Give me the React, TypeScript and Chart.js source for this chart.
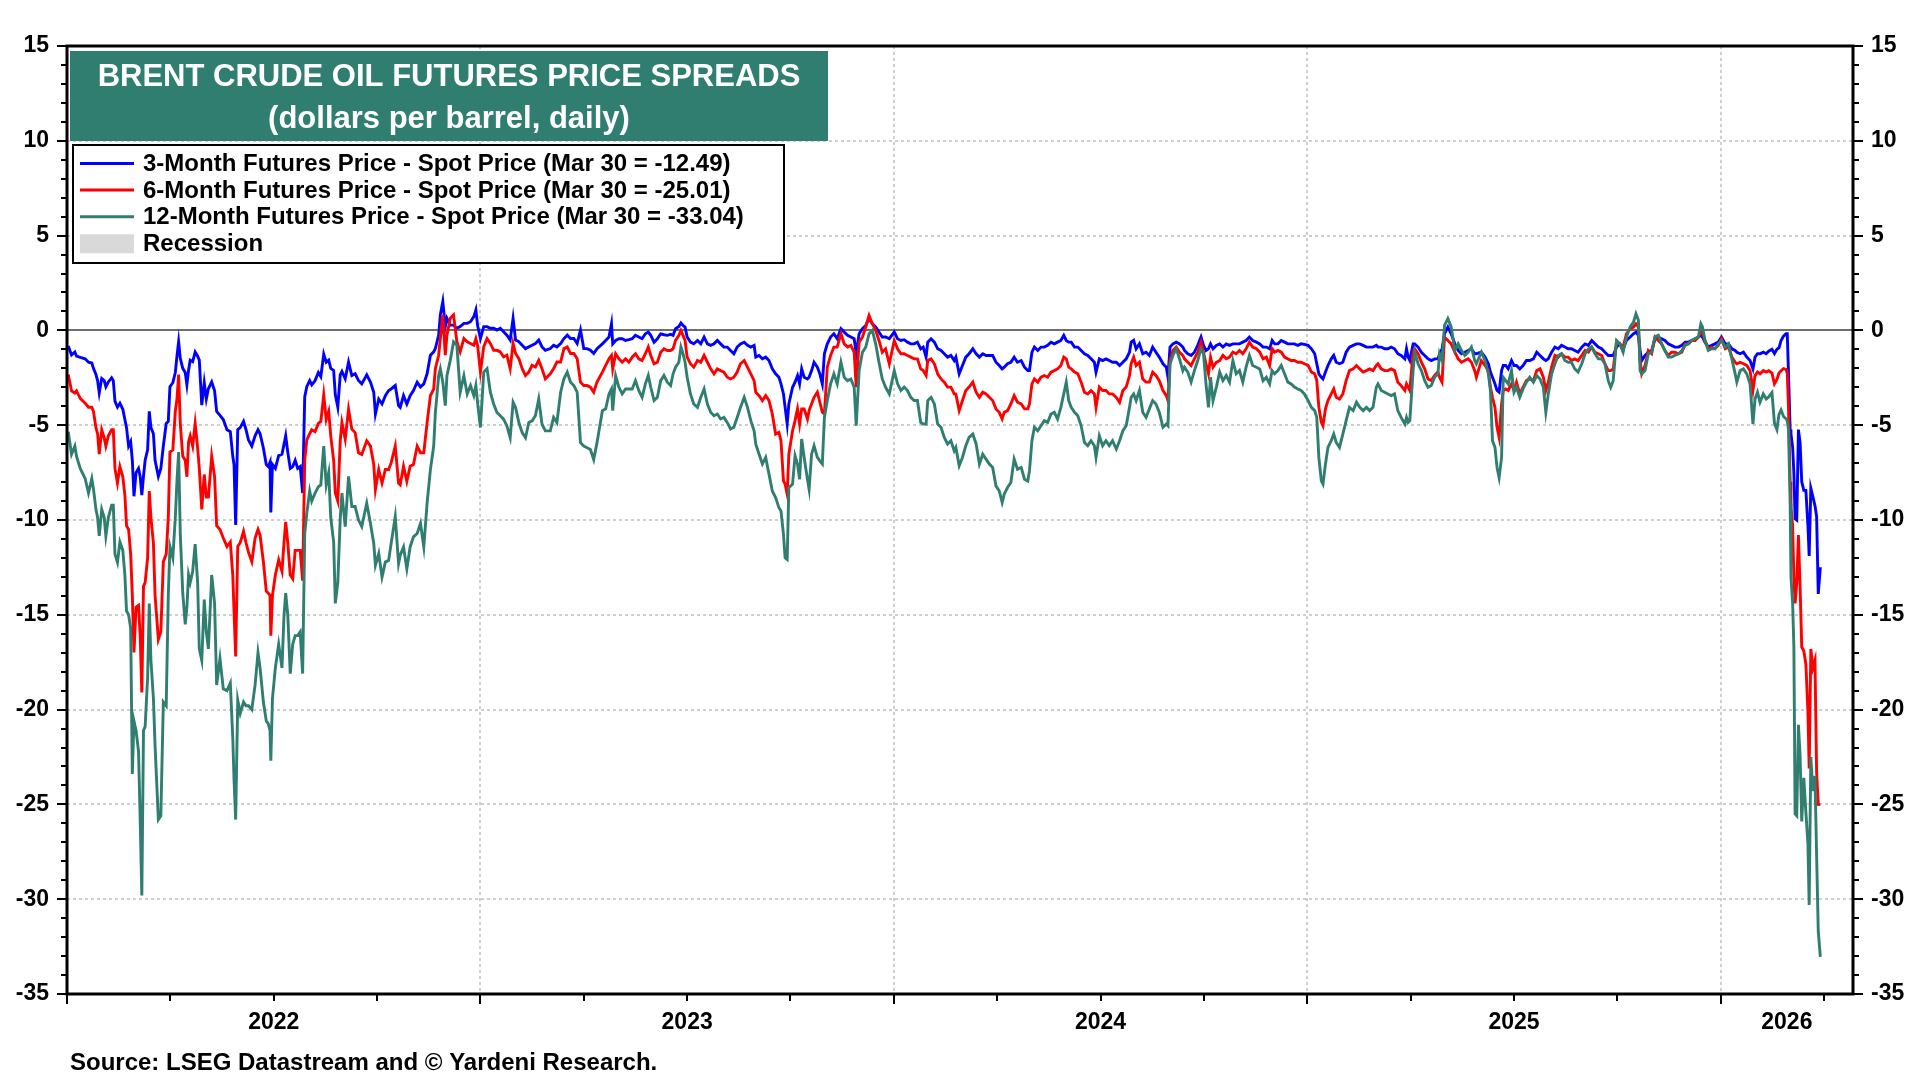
import React, { useEffect, useRef } from "react";
import { Chart, registerables } from "chart.js";

Chart.register(...registerables);

// ---------------- DATA ----------------
const dates: number[] = [
  // 2022 H1
  2022.003, 2022.011, 2022.019, 2022.023, 2022.032, 2022.044, 2022.052, 2022.060, 2022.064, 2022.070,
  2022.074, 2022.078, 2022.084, 2022.090, 2022.094, 2022.100, 2022.108, 2022.112, 2022.116, 2022.122,
  2022.128, 2022.135, 2022.140, 2022.144, 2022.149, 2022.154, 2022.158, 2022.162, 2022.167, 2022.173,
  2022.177, 2022.181, 2022.185, 2022.189, 2022.195, 2022.199, 2022.203, 2022.209, 2022.213, 2022.221,
  2022.227, 2022.233, 2022.240, 2022.245, 2022.249, 2022.256, 2022.262, 2022.266, 2022.270, 2022.274,
  2022.280, 2022.286, 2022.290, 2022.294, 2022.298, 2022.304, 2022.310, 2022.316, 2022.320, 2022.326,
  2022.332, 2022.337, 2022.342, 2022.350, 2022.357, 2022.362, 2022.370, 2022.378, 2022.387, 2022.395,
  2022.401, 2022.404, 2022.408, 2022.413, 2022.419, 2022.427, 2022.433, 2022.439, 2022.447, 2022.455,
  2022.462, 2022.467, 2022.475, 2022.482, 2022.487, 2022.491, 2022.493, 2022.497, 2022.504, 2022.512,
  2022.520, 2022.525, 2022.529, 2022.534, 2022.540, 2022.546, 2022.552, 2022.558, 2022.564, 2022.570,
  2022.575, 2022.580, 2022.587, 2022.592, 2022.600, 2022.608, 2022.614, 2022.621, 2022.627, 2022.633,
  2022.638, 2022.645, 2022.649, 2022.655, 2022.661,
  // 2022 H2 - 2023 Q1
  2022.665, 2022.673, 2022.681, 2022.689, 2022.697, 2022.705, 2022.713, 2022.725, 2022.734, 2022.742,
  2022.746, 2022.754, 2022.762, 2022.770, 2022.778, 2022.784, 2022.794, 2022.802, 2022.806, 2022.814,
  2022.822, 2022.830, 2022.838, 2022.847, 2022.855, 2022.863, 2022.871, 2022.879, 2022.887, 2022.891,
  2022.899, 2022.903, 2022.909, 2022.915, 2022.919, 2022.927, 2022.935, 2022.943, 2022.951, 2022.960,
  2022.968, 2022.976, 2022.984, 2022.989, 2022.993, 2023.000, 2023.008, 2023.016, 2023.024, 2023.032,
  2023.040, 2023.048, 2023.056, 2023.064, 2023.072, 2023.079, 2023.085, 2023.093, 2023.101, 2023.109,
  2023.117, 2023.125, 2023.133, 2023.141, 2023.149, 2023.157, 2023.169, 2023.177, 2023.185, 2023.194,
  2023.202, 2023.210, 2023.218, 2023.226, 2023.234, 2023.242, 2023.250, 2023.258, 2023.266, 2023.274,
  2023.282,
  // 2023 Q2 - Q4
  2023.295, 2023.303, 2023.311, 2023.317, 2023.320, 2023.327, 2023.335, 2023.343, 2023.351, 2023.359,
  2023.367, 2023.375, 2023.383, 2023.391, 2023.399, 2023.406, 2023.412, 2023.420, 2023.428, 2023.436,
  2023.444, 2023.452, 2023.460, 2023.466, 2023.472, 2023.480, 2023.485, 2023.490, 2023.495, 2023.500,
  2023.508, 2023.516, 2023.525, 2023.533, 2023.541, 2023.549, 2023.557, 2023.565, 2023.573, 2023.581,
  2023.589, 2023.597, 2023.605, 2023.613, 2023.621, 2023.629, 2023.638, 2023.646, 2023.654, 2023.662,
  2023.666, 2023.674, 2023.682, 2023.690, 2023.698, 2023.706, 2023.714, 2023.722, 2023.727, 2023.733,
  2023.737, 2023.742, 2023.746, 2023.755, 2023.761, 2023.767, 2023.772, 2023.777, 2023.783, 2023.791,
  2023.795, 2023.801, 2023.807, 2023.815, 2023.821, 2023.827, 2023.832, 2023.839, 2023.847, 2023.855,
  2023.863, 2023.872, 2023.880, 2023.888, 2023.896, 2023.904, 2023.909, 2023.916, 2023.924, 2023.932,
  2023.940, 2023.948, 2023.956, 2023.964, 2023.972, 2023.980, 2023.989, 2024.001,
  // 2024 Jan - Sep
  2024.009, 2024.017, 2024.025, 2024.033, 2024.041, 2024.049, 2024.057, 2024.065, 2024.071, 2024.078,
  2024.082, 2024.090, 2024.098, 2024.106, 2024.114, 2024.122, 2024.130, 2024.138, 2024.146, 2024.150,
  2024.158, 2024.166, 2024.174, 2024.182, 2024.191, 2024.199, 2024.207, 2024.215, 2024.223, 2024.231,
  2024.239, 2024.247, 2024.255, 2024.262, 2024.267, 2024.275, 2024.283, 2024.291, 2024.299, 2024.308,
  2024.316, 2024.324, 2024.328, 2024.334, 2024.340, 2024.348, 2024.356, 2024.364, 2024.372, 2024.380,
  2024.388, 2024.396, 2024.404, 2024.411, 2024.417, 2024.423, 2024.429, 2024.437, 2024.445, 2024.453,
  2024.461, 2024.469, 2024.477, 2024.485, 2024.489, 2024.497, 2024.505, 2024.513, 2024.521, 2024.529,
  2024.538, 2024.546, 2024.554, 2024.562, 2024.570, 2024.574, 2024.580, 2024.586, 2024.594, 2024.602,
  2024.610, 2024.618, 2024.626, 2024.634, 2024.642, 2024.651, 2024.659, 2024.663, 2024.668, 2024.675,
  2024.683, 2024.691, 2024.699,
  // 2024 Sep - 2025 May
  2024.703, 2024.711, 2024.719, 2024.727, 2024.735, 2024.743, 2024.749, 2024.755, 2024.761, 2024.766,
  2024.772, 2024.780, 2024.788, 2024.796, 2024.804, 2024.812, 2024.820, 2024.828, 2024.836, 2024.844,
  2024.852, 2024.860, 2024.868, 2024.877, 2024.885, 2024.893, 2024.901, 2024.909, 2024.915, 2024.921,
  2024.929, 2024.937, 2024.945, 2024.953, 2024.961, 2024.969, 2024.977, 2024.985, 2024.993, 2025.002,
  2025.010, 2025.018, 2025.023, 2025.028, 2025.034, 2025.038, 2025.044, 2025.050, 2025.058, 2025.064,
  2025.070, 2025.078, 2025.086, 2025.094, 2025.102, 2025.111, 2025.119, 2025.127, 2025.135, 2025.143,
  2025.151, 2025.159, 2025.167, 2025.171, 2025.179, 2025.187, 2025.195, 2025.203, 2025.211, 2025.219,
  2025.227, 2025.236, 2025.240, 2025.244, 2025.248, 2025.256, 2025.260, 2025.268, 2025.276, 2025.284,
  2025.292, 2025.300, 2025.308, 2025.316, 2025.320, 2025.326, 2025.332, 2025.340, 2025.348, 2025.357,
  2025.365, 2025.373, 2025.381, 2025.389, 2025.397, 2025.405,
  // 2025 May - 2026 Feb
  2025.409, 2025.421, 2025.430, 2025.438, 2025.443, 2025.448, 2025.454, 2025.459, 2025.464, 2025.470,
  2025.474, 2025.480, 2025.486, 2025.494, 2025.500, 2025.506, 2025.514, 2025.522, 2025.530, 2025.538,
  2025.547, 2025.555, 2025.563, 2025.571, 2025.577, 2025.583, 2025.591, 2025.599, 2025.607, 2025.615,
  2025.623, 2025.631, 2025.639, 2025.647, 2025.655, 2025.664, 2025.672, 2025.680, 2025.688, 2025.696,
  2025.704, 2025.712, 2025.720, 2025.728, 2025.734, 2025.740, 2025.748, 2025.756, 2025.764, 2025.772,
  2025.781, 2025.789, 2025.795, 2025.801, 2025.805, 2025.809, 2025.817, 2025.825, 2025.833, 2025.841,
  2025.849, 2025.857, 2025.865, 2025.873, 2025.881, 2025.889, 2025.898, 2025.906, 2025.914, 2025.922,
  2025.930, 2025.938, 2025.946, 2025.952, 2025.956, 2025.962, 2025.970, 2025.978, 2025.986, 2025.994,
  2026.002, 2026.011, 2026.019, 2026.027, 2026.035, 2026.039, 2026.047, 2026.055, 2026.063, 2026.071,
  2026.078, 2026.083, 2026.089, 2026.095, 2026.103, 2026.110,
  // 2026 Feb - Mar 30
  2026.116, 2026.124, 2026.130, 2026.136, 2026.141, 2026.146, 2026.152, 2026.158, 2026.161, 2026.164,
  2026.168, 2026.170, 2026.174, 2026.177, 2026.180, 2026.184, 2026.188, 2026.192, 2026.196, 2026.201,
  2026.206, 2026.211, 2026.214, 2026.218, 2026.223, 2026.228, 2026.232, 2026.236, 2026.241,
];

const spread3m: number[] = [
  -0.82, -1.30, -1.14, -1.36, -1.42, -1.50, -1.68, -1.72, -2.00, -2.33,
  -2.65, -3.30, -2.54, -2.65, -2.97, -2.72, -2.50, -2.65, -3.73, -4.05,
  -3.84, -4.16, -4.70, -5.13, -6.10, -5.87, -6.85, -8.75, -7.50, -7.28,
  -7.70, -8.69, -7.70, -6.85, -6.30, -4.27, -5.13, -5.45, -6.85, -7.70,
  -7.28, -6.10, -4.91, -4.80, -2.97, -2.76, -2.22, -1.36, -0.60, -1.47,
  -2.00, -2.22, -2.87, -2.11, -1.57, -1.64, -1.14, -1.36, -1.57, -3.94,
  -2.76, -3.62, -3.08, -2.72, -3.19, -4.27, -4.48, -4.70, -5.24, -5.34,
  -6.64, -7.07, -10.26, -5.24, -5.13, -4.80, -5.24, -5.78, -6.10, -5.56,
  -5.24, -5.45, -6.20, -7.07, -7.18, -6.96, -9.60, -7.07, -7.28, -6.60,
  -6.53, -6.00, -5.56, -6.42, -7.28, -7.18, -6.85, -7.28, -7.18, -8.58,
  -3.51, -2.97, -2.65, -2.87, -2.65, -2.22, -2.44, -1.25, -1.68, -1.57,
  -2.00, -2.11, -3.40, -4.05, -2.33,
  -2.16, -2.55, -1.67, -2.38, -2.29, -2.64, -2.82, -2.34, -2.73, -3.26,
  -4.41, -3.62, -3.88, -3.44, -3.17, -3.09, -2.91, -3.97, -4.06, -3.44,
  -3.88, -3.44, -3.17, -2.73, -2.99, -2.82, -2.29, -1.31, -1.13, -0.96,
  -0.25, 0.82, 1.52, 0.20, 0.64, 0.28, 0.28, 0.11, 0.20, 0.37,
  0.37, 0.46, 0.73, 1.08, 0.28, -0.43, 0.20, 0.20, 0.11, 0.11,
  0.02, 0.11, -0.07, -0.25, -0.51, 0.64, -0.51, -0.60, -0.78, -0.96,
  -0.87, -0.78, -0.69, -0.51, -0.87, -1.05, -0.96, -0.78, -0.87, -0.69,
  -0.43, -0.25, -0.43, -0.43, -0.69, 0.02, -0.96, -0.96, -1.05, -1.22,
  -0.96,
  -0.71, -0.53, -0.35, 0.35, -0.71, -0.53, -0.44, -0.44, -0.53, -0.49,
  -0.44, -0.26, -0.35, -0.44, -0.18, -0.09, -0.26, -0.62, -0.44, -0.18,
  -0.23, -0.26, -0.21, -0.26, 0.09, 0.21, 0.39, 0.26, 0.18, -0.35,
  -0.62, -0.71, -0.53, -0.71, -0.35, -0.71, -0.79, -0.71, -0.53, -0.71,
  -0.88, -0.88, -1.06, -1.23, -0.88, -0.71, -0.62, -0.79, -0.88, -0.79,
  -1.41, -1.32, -1.50, -1.41, -1.59, -2.03, -2.29, -2.47, -2.82, -3.35,
  -4.06, -4.94, -3.88, -3.00, -2.73, -2.38, -2.82, -2.03, -2.47, -2.56,
  -2.47, -2.12, -1.68, -1.94, -2.29, -2.82, -1.23, -0.71, -0.35, -0.18,
  -0.44, 0.09, -0.09, -0.26, -0.35, -0.44, -1.23, -0.18, 0.09, 0.26,
  0.62, 0.35, 0.18, -0.09, -0.35, -0.35, -0.44, -0.09,
  -0.44, -0.53, -0.49, -0.62, -0.71, -0.71, -0.62, -0.97, -0.88, -1.41,
  -0.62, -0.44, -0.62, -0.97, -1.06, -1.23, -1.41, -1.32, -1.59, -1.41,
  -2.29, -1.85, -1.41, -1.23, -0.97, -1.23, -1.41, -1.23, -1.32, -1.32,
  -1.32, -1.68, -1.85, -2.03, -1.94, -1.76, -1.68, -1.41, -1.68, -1.59,
  -1.94, -2.12, -2.12, -1.15, -0.88, -1.06, -0.88, -0.88, -0.79, -0.62,
  -0.71, -0.62, -0.53, -0.26, -0.53, -0.62, -0.62, -0.88, -0.88, -1.06,
  -1.23, -1.32, -1.50, -1.68, -2.20, -1.50, -1.59, -1.50, -1.59, -1.68,
  -1.68, -1.85, -1.68, -1.50, -1.15, -0.62, -0.53, -0.97, -0.71, -1.23,
  -1.15, -1.32, -0.88, -1.15, -1.41, -1.76, -1.94, -2.47, -0.88, -0.71,
  -0.62, -0.71, -0.88,
  -1.06, -1.23, -1.32, -1.15, -0.79, -0.35, -0.79, -1.06, -0.97, -0.71,
  -0.97, -0.79, -0.71, -0.88, -0.71, -0.79, -0.71, -0.71, -0.71, -0.62,
  -0.53, -0.35, -0.53, -0.62, -0.71, -0.88, -0.88, -0.97, -0.53, -0.71,
  -0.71, -0.53, -0.62, -0.71, -0.71, -0.71, -0.79, -0.71, -0.74, -0.79,
  -0.97, -1.23, -1.76, -2.29, -2.47, -2.56, -2.20, -1.85, -1.50, -1.32,
  -1.68, -1.76, -1.68, -1.15, -0.88, -0.79, -0.71, -0.71, -0.79, -0.88,
  -0.88, -0.88, -0.79, -0.88, -0.88, -0.97, -0.97, -0.88, -0.97, -1.23,
  -1.32, -1.50, -0.97, -1.41, -1.59, -0.71, -0.71, -0.88, -1.15, -1.32,
  -1.50, -1.59, -1.50, -1.50, -1.23, -0.97, -0.18, 0.18, -0.18, -0.71,
  -1.06, -1.23, -1.15, -1.06, -0.97, -1.23,
  -1.23, -1.15, -1.41, -1.76, -2.20, -2.47, -2.82, -3.17, -3.26, -2.12,
  -1.85, -1.85, -2.03, -1.59, -1.85, -1.85, -2.03, -1.85, -1.59, -1.59,
  -1.50, -1.15, -1.32, -1.50, -1.59, -1.50, -1.15, -0.88, -0.97, -0.79,
  -0.88, -0.97, -0.97, -1.06, -1.15, -0.88, -0.71, -0.79, -0.53, -0.71,
  -0.88, -0.97, -1.15, -1.32, -1.32, -1.32, -0.88, -0.71, -0.97, -0.53,
  -0.35, -0.18, -0.09, -0.26, -1.06, -1.59, -1.32, -1.15, -1.06, -0.44,
  -0.35, -0.44, -0.53, -0.71, -0.79, -0.88, -0.88, -0.79, -0.62, -0.62,
  -0.53, -0.44, -0.35, -0.26, -0.35, -0.62, -0.88, -0.79, -0.71, -0.62,
  -0.35, -0.71, -0.71, -0.97, -1.06, -1.15, -1.23, -1.15, -1.41, -1.59,
  -2.03, -1.41, -1.23, -1.23, -1.15, -1.23,
  -1.10, -0.99, -1.22, -0.99, -0.92, -0.53, -0.30, -0.18, -0.18, -2.25,
  -5.23, -5.46, -6.15, -7.52, -9.93, -10.00, -5.23, -5.92, -7.98, -8.44,
  -8.44, -10.30, -11.90, -8.33, -8.78, -9.24, -9.82, -13.90, -12.49,
];

const spread6m: number[] = [
  -2.33, -3.19, -3.30, -3.19, -3.58, -3.84, -4.05, -4.05, -4.27, -5.13,
  -5.45, -6.53, -5.24, -5.67, -6.10, -5.56, -5.24, -5.24, -7.28, -8.04,
  -7.18, -7.72, -8.69, -10.30, -10.50, -11.80, -13.97, -16.98, -14.60, -14.50,
  -16.10, -19.10, -13.50, -13.30, -12.00, -8.47, -9.87, -11.20, -13.97, -16.30,
  -15.90, -12.20, -11.80, -9.87, -6.42, -6.31, -4.27, -3.62, -2.33, -4.91,
  -6.64, -6.85, -7.72, -5.88, -5.56, -6.10, -4.91, -6.20, -7.28, -9.44,
  -7.60, -8.79, -8.79, -6.64, -7.72, -10.30, -10.50, -10.95, -11.40, -11.16,
  -12.90, -14.80, -17.20, -11.40, -11.20, -10.60, -11.20, -11.70, -12.20, -10.95,
  -10.50, -10.80, -12.20, -13.75, -13.86, -13.97, -16.10, -13.97, -12.90, -12.10,
  -12.70, -11.16, -10.10, -11.20, -12.90, -13.10, -11.60, -11.60, -11.60, -13.20,
  -6.85, -5.78, -5.45, -5.24, -5.34, -4.91, -4.80, -3.40, -4.70, -4.27,
  -5.56, -6.85, -8.58, -9.00, -5.78,
  -4.86, -5.74, -4.15, -5.21, -5.39, -6.45, -6.54, -5.82, -6.10, -7.07,
  -8.40, -7.34, -8.05, -7.34, -7.34, -6.99, -6.10, -8.05, -8.14, -7.16,
  -7.96, -7.16, -7.07, -6.10, -6.45, -6.45, -4.86, -3.44, -3.09, -2.02,
  -1.31, -0.43, 0.82, -1.31, -0.25, 0.64, 0.82, -0.60, -1.13, -0.43,
  -0.60, -0.69, -0.78, -0.43, -0.78, -2.20, -0.87, -0.43, -0.69, -1.05,
  -1.05, -1.13, -1.40, -1.31, -2.02, -0.69, -1.22, -1.49, -2.02, -2.38,
  -2.20, -1.84, -1.93, -1.58, -2.02, -2.55, -2.29, -2.02, -1.67, -1.67,
  -0.96, -0.87, -1.22, -1.22, -1.49, -2.73, -2.91, -2.91, -2.99, -3.26,
  -2.73,
  -2.20, -1.85, -1.50, -1.32, -2.03, -1.23, -1.50, -1.68, -1.50, -1.68,
  -1.41, -1.23, -1.50, -1.59, -1.23, -0.88, -1.32, -1.76, -1.68, -1.15,
  -0.97, -1.06, -1.06, -0.97, -0.53, -0.26, 0.00, -0.26, -0.53, -1.41,
  -1.76, -1.94, -1.59, -1.68, -1.32, -1.68, -2.03, -2.29, -2.03, -2.12,
  -2.20, -2.47, -2.56, -2.47, -2.20, -1.76, -1.59, -1.94, -2.29, -2.65,
  -3.26, -3.44, -3.70, -3.44, -3.70, -4.41, -5.47, -5.38, -5.82, -7.94,
  -8.11, -8.64, -6.53, -5.29, -4.76, -4.14, -4.94, -4.14, -4.14, -4.67,
  -4.23, -3.88, -3.53, -3.26, -3.79, -4.32, -4.41, -1.94, -1.32, -0.88,
  -0.88, -0.18, -0.71, -0.88, -0.79, -1.15, -2.99, -0.62, -0.35, 0.18,
  0.79, 0.35, 0.00, -0.53, -1.15, -0.97, -1.76, -0.53,
  -0.97, -1.23, -1.23, -1.32, -1.41, -1.50, -1.50, -2.03, -2.12, -2.38,
  -1.59, -1.50, -1.76, -2.29, -2.56, -2.73, -2.99, -2.99, -3.35, -3.35,
  -4.23, -3.70, -3.17, -2.99, -2.73, -3.26, -3.53, -3.26, -3.35, -3.53,
  -3.70, -4.14, -4.32, -4.67, -4.32, -4.23, -3.88, -3.44, -3.79, -3.88,
  -4.14, -4.14, -3.88, -2.82, -2.56, -2.73, -2.47, -2.38, -2.47, -2.20,
  -2.12, -2.03, -1.85, -1.41, -1.50, -1.94, -2.03, -2.20, -2.29, -2.73,
  -3.26, -3.35, -3.17, -3.35, -4.06, -2.99, -3.17, -3.17, -3.35, -3.35,
  -3.53, -3.79, -3.17, -2.99, -2.38, -1.76, -1.41, -1.85, -1.68, -2.56,
  -2.73, -2.73, -2.20, -2.38, -2.65, -3.17, -3.44, -3.70, -1.59, -1.06,
  -0.88, -1.15, -1.32,
  -1.50, -1.68, -1.85, -1.50, -1.15, -0.62, -1.15, -1.76, -2.29, -1.41,
  -1.94, -1.68, -1.59, -1.32, -1.50, -1.41, -1.15, -1.23, -1.06, -1.23,
  -0.97, -0.62, -0.88, -0.97, -1.15, -1.50, -1.41, -1.85, -0.97, -1.15,
  -1.06, -1.15, -1.41, -1.50, -1.59, -1.59, -1.68, -1.68, -1.76, -1.85,
  -2.20, -2.29, -2.65, -4.06, -4.85, -5.03, -4.14, -3.70, -3.35, -3.09,
  -3.53, -3.62, -3.35, -2.65, -2.12, -2.03, -1.85, -2.03, -2.20, -2.12,
  -2.03, -2.12, -1.85, -1.76, -2.03, -2.12, -2.12, -2.03, -2.12, -2.73,
  -2.91, -3.17, -2.82, -2.99, -3.17, -1.15, -0.97, -1.23, -1.68, -2.03,
  -2.56, -2.65, -2.38, -2.20, -2.47, -2.73, -0.35, -0.53, -0.71, -1.15,
  -1.50, -1.68, -1.59, -1.50, -1.68, -2.12,
  -2.47, -1.59, -1.85, -2.12, -3.00, -3.53, -4.06, -5.11, -5.64, -3.88,
  -3.17, -3.09, -3.17, -2.82, -3.17, -2.73, -3.35, -2.99, -2.65, -2.56,
  -2.65, -2.12, -2.03, -2.47, -3.17, -2.73, -1.94, -1.32, -1.41, -1.23,
  -1.41, -1.41, -1.59, -1.50, -1.59, -1.32, -1.06, -1.15, -0.88, -1.15,
  -1.23, -1.32, -1.76, -2.12, -2.12, -2.03, -0.62, -0.71, -0.88, -0.18,
  0.09, 0.18, 0.35, 0.18, -1.59, -2.29, -1.85, -1.06, -1.23, -0.35,
  -0.53, -0.71, -1.06, -1.32, -1.15, -1.15, -1.23, -1.15, -0.71, -0.71,
  -0.53, -0.53, -0.35, -0.09, -0.18, -0.53, -0.97, -0.88, -0.97, -0.79,
  -0.44, -0.97, -0.88, -1.41, -1.68, -1.76, -1.68, -1.76, -1.85, -2.12,
  -3.17, -2.38, -2.20, -2.29, -2.12, -2.20,
  -2.13, -2.25, -2.82, -2.59, -2.25, -2.13, -2.02, -2.06, -2.25, -4.08,
  -7.98, -9.36, -10.30, -13.00, -14.40, -13.30, -10.80, -13.50, -16.70, -16.90,
  -17.60, -20.10, -23.10, -16.80, -17.80, -17.40, -23.30, -25.00, -25.01,
];

const spread12m: number[] = [
  -5.34, -6.53, -6.10, -6.64, -7.28, -7.82, -8.58, -7.82, -8.36, -9.44,
  -9.87, -10.84, -9.44, -9.87, -10.84, -9.87, -9.22, -9.22, -11.80, -12.24,
  -11.16, -11.60, -12.90, -14.80, -15.00, -15.70, -23.40, -20.60, -21.10, -22.20,
  -25.80, -29.80, -21.10, -20.90, -18.30, -14.40, -17.40, -19.40, -21.90, -25.80,
  -25.60, -19.60, -19.80, -13.97, -11.40, -12.00, -9.87, -7.93, -6.42, -10.73,
  -13.86, -15.50, -14.60, -12.90, -13.30, -12.70, -11.27, -13.30, -16.80, -17.40,
  -14.20, -15.90, -16.80, -12.90, -14.40, -18.70, -17.30, -18.90, -19.00, -18.60,
  -21.50, -23.70, -25.80, -19.50, -20.20, -19.60, -19.80, -19.80, -20.00, -18.70,
  -17.00, -17.80, -19.60, -20.60, -20.75, -21.10, -22.70, -19.40, -17.80, -16.55,
  -17.80, -15.00, -13.86, -15.00, -18.10, -16.55, -16.10, -16.10, -15.90, -18.10,
  -10.73, -9.65, -8.47, -9.00, -8.58, -8.25, -8.15, -6.10, -8.15, -7.50,
  -9.87, -11.16, -14.40, -13.30, -9.87,
  -8.58, -10.35, -7.70, -9.29, -9.29, -9.99, -10.35, -9.11, -10.18, -11.24,
  -12.39, -11.77, -13.01, -12.22, -12.13, -11.24, -9.82, -12.30, -11.86, -11.42,
  -12.57, -11.42, -10.89, -10.71, -10.18, -11.42, -9.11, -7.34, -6.10, -4.33,
  -2.39, -2.02, -2.73, -3.97, -2.39, -1.58, -0.60, -0.78, -3.26, -2.39,
  -3.35, -2.91, -3.44, -2.91, -3.79, -5.12, -2.20, -2.02, -3.26, -3.88,
  -4.33, -4.50, -4.68, -5.04, -5.66, -3.79, -4.06, -4.86, -5.39, -5.66,
  -4.86, -4.77, -4.50, -3.62, -4.95, -5.30, -5.30, -4.59, -4.86, -3.26,
  -2.55, -2.20, -2.73, -2.91, -3.26, -5.92, -6.10, -6.19, -6.28, -6.81,
  -5.92,
  -4.23, -4.14, -3.35, -3.09, -4.23, -2.38, -3.00, -3.35, -3.09, -3.09,
  -3.09, -2.65, -3.17, -3.53, -2.82, -2.38, -3.00, -3.70, -3.53, -2.65,
  -2.38, -2.73, -2.91, -2.29, -1.94, -1.68, -0.88, -1.23, -1.68, -2.47,
  -3.35, -3.88, -4.06, -3.53, -3.09, -3.88, -4.32, -4.50, -4.41, -4.67,
  -4.59, -4.85, -5.20, -5.11, -4.59, -4.06, -3.53, -4.06, -4.76, -5.29,
  -6.00, -6.53, -7.05, -6.70, -7.58, -8.47, -8.82, -9.35, -9.52, -10.76,
  -11.99, -12.08, -8.29, -8.11, -6.61, -7.05, -7.85, -5.73, -6.70, -7.85,
  -8.38, -6.53, -6.08, -6.70, -6.88, -7.05, -4.59, -3.70, -2.82, -2.29,
  -2.82, -1.68, -2.47, -2.65, -2.56, -3.00, -5.03, -2.12, -1.15, -0.88,
  -0.18, 0.00, -0.71, -1.68, -2.56, -3.00, -3.35, -2.12,
  -2.82, -3.17, -2.99, -3.17, -3.53, -3.70, -3.70, -4.85, -4.94, -4.94,
  -3.70, -3.53, -3.88, -4.94, -5.11, -5.64, -5.99, -5.82, -6.35, -6.17,
  -7.14, -6.70, -6.08, -5.64, -5.47, -5.99, -7.05, -6.53, -6.79, -7.05,
  -7.23, -8.20, -8.47, -9.08, -8.64, -8.29, -8.02, -6.79, -7.32, -7.23,
  -7.85, -7.94, -7.41, -5.82, -5.11, -5.29, -5.03, -4.76, -4.85, -4.41,
  -4.32, -4.67, -4.06, -3.35, -2.73, -3.70, -4.06, -4.32, -4.50, -5.03,
  -5.91, -6.08, -5.82, -6.08, -6.70, -5.56, -6.08, -5.82, -6.08, -5.82,
  -6.26, -5.82, -5.29, -5.03, -4.06, -3.53, -3.35, -3.70, -3.17, -4.32,
  -4.59, -4.14, -3.70, -3.88, -4.32, -5.11, -4.94, -5.03, -1.76, -1.32,
  -0.97, -1.50, -2.12,
  -1.94, -2.20, -2.73, -2.12, -1.59, -0.97, -1.23, -2.82, -4.06, -2.47,
  -3.70, -2.99, -2.20, -2.65, -2.38, -2.73, -1.59, -2.29, -2.12, -2.73,
  -1.94, -1.32, -1.85, -1.94, -2.03, -2.65, -2.47, -2.82, -2.12, -2.29,
  -2.12, -1.85, -2.29, -2.73, -2.82, -2.99, -3.09, -3.17, -3.35, -3.70,
  -4.06, -4.23, -4.59, -6.70, -7.94, -8.11, -7.05, -6.17, -5.82, -5.47,
  -5.91, -6.17, -5.47, -4.76, -4.06, -4.23, -3.79, -4.06, -4.23, -4.06,
  -4.23, -4.06, -2.99, -2.82, -3.17, -3.26, -3.35, -3.44, -3.35, -4.23,
  -4.59, -4.94, -4.59, -4.85, -4.76, -2.12, -1.15, -1.76, -2.12, -2.65,
  -3.00, -2.91, -2.47, -2.29, -1.23, -1.59, 0.26, 0.62, 0.18, -1.06,
  -0.71, -1.06, -1.32, -1.15, -0.88, -1.59,
  -1.76, -1.15, -1.59, -2.29, -3.17, -5.82, -6.17, -7.23, -7.76, -6.70,
  -2.47, -2.65, -2.82, -2.12, -3.26, -3.00, -3.53, -3.09, -2.73, -2.47,
  -2.73, -2.38, -2.56, -2.99, -4.32, -3.35, -2.29, -1.76, -1.32, -1.23,
  -1.59, -1.68, -1.68, -2.03, -2.20, -1.76, -1.23, -0.97, -0.88, -1.23,
  -1.50, -1.50, -1.76, -2.65, -3.00, -2.65, -0.53, -0.71, -1.15, -0.35,
  0.18, 0.44, 0.88, 0.53, -2.12, -2.29, -2.12, -1.23, -1.15, -0.35,
  -0.26, -0.71, -1.06, -1.41, -1.41, -1.32, -1.23, -1.06, -0.79, -0.71,
  -0.53, -0.44, -0.35, 0.35, 0.18, -0.53, -1.06, -0.97, -0.97, -0.71,
  -0.53, -0.88, -0.71, -1.50, -2.29, -2.73, -2.12, -2.03, -2.29, -2.82,
  -4.94, -3.62, -3.26, -3.79, -3.35, -3.62,
  -3.51, -3.28, -4.89, -5.23, -4.43, -4.20, -4.54, -4.66, -4.77, -5.23,
  -9.13, -13.00, -14.40, -16.70, -25.50, -25.60, -20.80, -22.40, -25.90, -23.60,
  -25.40, -27.10, -30.30, -22.50, -24.30, -23.50, -27.70, -31.70, -33.04,
];

const seriesNames = [
  "3-Month Futures Price - Spot Price",
  "6-Month Futures Price - Spot Price",
  "12-Month Futures Price - Spot Price",
];
const lastDateLabel = "Mar 30";
const yTicks = [15, 10, 5, 0, -5, -10, -15, -20, -25, -30, -35];
const years = [2022, 2023, 2024, 2025, 2026];
const titleLines = ["BRENT CRUDE OIL FUTURES PRICE SPREADS", "(dollars per barrel, daily)"];
const recessionLabel = "Recession";
const sourceText = "Source: LSEG Datastream and \u00A9 Yardeni Research.";

// ---------------- STYLE ----------------
const FONT = "'Liberation Sans', Arial, Helvetica, sans-serif";
const BLUE = "#0000FF";
const RED = "#FF0000";
const TEAL = "#2F7E70";
const GRID = "#CFCFCF";
const X_MIN = 2022;
const X_MAX = 2026.32;
const Y_MIN = -35;
const Y_MAX = 15;

const decorPlugin = {
  id: "decor",
  beforeDatasetsDraw(chart: any) {
    const { ctx, chartArea: a, scales } = chart;
    const ys = scales.y;
    const xs = scales.x;
    ctx.save();
    ctx.strokeStyle = GRID;
    ctx.lineWidth = 2;
    ctx.setLineDash([3, 3]);
    for (const v of yTicks) {
      if (v === 0 || v === Y_MAX || v === Y_MIN) continue;
      const py = Math.round(ys.getPixelForValue(v));
      ctx.beginPath();
      ctx.moveTo(a.left, py);
      ctx.lineTo(a.right, py);
      ctx.stroke();
    }
    for (const yr of years) {
      if (yr <= X_MIN) continue;
      const px = Math.round(xs.getPixelForValue(yr));
      ctx.beginPath();
      ctx.moveTo(px, a.top);
      ctx.lineTo(px, a.bottom);
      ctx.stroke();
    }
    ctx.setLineDash([]);
    const p0 = Math.round(ys.getPixelForValue(0));
    ctx.strokeStyle = "#6E6E6E";
    ctx.lineWidth = 2;
    ctx.beginPath();
    ctx.moveTo(a.left, p0);
    ctx.lineTo(a.right, p0);
    ctx.stroke();
    ctx.restore();
  },
  afterDraw(chart: any) {
    const { ctx, chartArea: a, scales } = chart;
    const ys = scales.y;
    const xs = scales.x;
    ctx.save();

    // frame
    ctx.strokeStyle = "#000";
    ctx.lineWidth = 3;
    ctx.strokeRect(a.left, a.top, a.right - a.left, a.bottom - a.top);

    // y tick marks (both sides)
    ctx.lineWidth = 2;
    for (let v = Y_MIN; v <= Y_MAX; v += 1) {
      const py = Math.round(ys.getPixelForValue(v));
      const len = v % 5 === 0 ? 10 : 6;
      ctx.beginPath();
      ctx.moveTo(a.left - len, py);
      ctx.lineTo(a.left, py);
      ctx.moveTo(a.right, py);
      ctx.lineTo(a.right + len, py);
      ctx.stroke();
    }
    // x tick marks (quarters)
    for (let q = 0; ; q++) {
      const v = X_MIN + q * 0.25;
      if (v > X_MAX) break;
      const px = Math.round(xs.getPixelForValue(v));
      const len = q % 4 === 0 ? 10 : 7;
      ctx.beginPath();
      ctx.moveTo(px, a.bottom);
      ctx.lineTo(px, a.bottom + len);
      ctx.stroke();
    }

    // title box
    const tbX = a.left + 3, tbY = a.top + 5, tbW = 758, tbH = 90;
    ctx.fillStyle = TEAL;
    ctx.fillRect(tbX, tbY, tbW, tbH);
    ctx.fillStyle = "#FFFFFF";
    ctx.font = `bold 31px ${FONT}`;
    ctx.textAlign = "center";
    ctx.textBaseline = "middle";
    ctx.fillText(titleLines[0], tbX + tbW / 2, tbY + 26);
    ctx.fillText(titleLines[1], tbX + tbW / 2, tbY + 68);

    // legend box
    const lbX = a.left + 6, lbY = a.top + 99, lbW = 711, lbH = 118;
    ctx.fillStyle = "#FFFFFF";
    ctx.fillRect(lbX, lbY, lbW, lbH);
    ctx.strokeStyle = "#000";
    ctx.lineWidth = 2;
    ctx.strokeRect(lbX, lbY, lbW, lbH);
    ctx.font = `bold 24px ${FONT}`;
    ctx.textAlign = "left";
    ctx.textBaseline = "middle";
    const legendDs = [0, 1, 2].map((i) => chart.data.datasets[i]);
    const rowY = (i: number) => lbY + 18.5 + i * 26.6;
    legendDs.forEach((ds: any, i: number) => {
      const cy = rowY(i);
      ctx.strokeStyle = ds.borderColor;
      ctx.lineWidth = 3;
      ctx.beginPath();
      ctx.moveTo(lbX + 7, cy);
      ctx.lineTo(lbX + 61, cy);
      ctx.stroke();
      ctx.fillStyle = "#000";
      ctx.fillText(ds.label, lbX + 70, cy + 1);
    });
    ctx.fillStyle = "#D9D9D9";
    ctx.fillRect(lbX + 7, rowY(3) - 9, 54, 19);
    ctx.fillStyle = "#000";
    ctx.fillText(recessionLabel, lbX + 70, rowY(3) + 1);

    // source
    ctx.font = `bold 24px ${FONT}`;
    ctx.textAlign = "left";
    ctx.textBaseline = "middle";
    ctx.fillStyle = "#000";
    ctx.fillText(sourceText, 70, 1063);

    ctx.restore();
  },
};

function lastOf(arr: number[]) {
  return arr[arr.length - 1];
}

export default function App() {
  const canvasRef = useRef<HTMLCanvasElement | null>(null);

  useEffect(() => {
    const canvas = canvasRef.current;
    if (!canvas) return;
    const mk = (vals: number[]) => {
      const n = Math.min(vals.length, dates.length);
      const out: { x: number; y: number }[] = [];
      for (let i = 0; i < n; i++) out.push({ x: dates[i], y: vals[i] });
      return out;
    };
    const series = [spread3m, spread6m, spread12m];
    const colors = [BLUE, RED, TEAL];
    const datasets = series.map((vals, i) => ({
      label: `${seriesNames[i]} (${lastDateLabel} = ${lastOf(vals).toFixed(2)})`,
      data: mk(vals),
      borderColor: colors[i],
      backgroundColor: colors[i],
      borderWidth: 2.9,
      pointRadius: 0,
      pointHoverRadius: 0,
      tension: 0,
      fill: false,
      order: 2 - i,
      xAxisID: "x",
      yAxisID: "y",
    }));

    const tickFont = { family: FONT, size: 23, weight: "bold" as const };
    const yCommon = {
      type: "linear" as const,
      min: Y_MIN,
      max: Y_MAX,
      grid: { display: false, drawTicks: false },
      border: { display: false },
      afterBuildTicks: (scale: any) => {
        scale.ticks = yTicks.map((v) => ({ value: v }));
      },
    };

    const chart = new Chart(canvas, {
      type: "line",
      data: { datasets },
      options: {
        animation: false,
        responsive: false,
        devicePixelRatio: 1,
        events: [],
        layout: { padding: { top: 46, left: 0, right: 0, bottom: 0 } },
        plugins: {
          legend: { display: false },
          tooltip: { enabled: false },
          title: { display: false },
        },
        scales: {
          x: {
            type: "linear",
            position: "bottom",
            min: X_MIN,
            max: X_MAX,
            grid: { display: false, drawTicks: false },
            border: { display: false },
            afterBuildTicks: (scale: any) => {
              scale.ticks = years.map((yr) => ({
                value: (Math.max(yr, X_MIN) + Math.min(yr + 1, X_MAX)) / 2,
              }));
            },
            afterFit: (scale: any) => {
              scale.height = 86;
            },
            ticks: {
              autoSkip: false,
              maxRotation: 0,
              minRotation: 0,
              padding: 15,
              color: "#000",
              font: tickFont,
              callback: (_v: any, idx: number) => String(years[idx]),
            },
          },
          y: {
            ...yCommon,
            position: "left",
            afterFit: (scale: any) => {
              scale.width = 67;
            },
            ticks: { padding: 18, color: "#000", font: tickFont, autoSkip: false },
          },
          y2: {
            ...yCommon,
            position: "right",
            afterFit: (scale: any) => {
              scale.width = 67;
            },
            ticks: { padding: 18, color: "#000", font: tickFont, autoSkip: false },
          },
        },
      } as any,
      plugins: [decorPlugin],
    });

    return () => {
      chart.destroy();
    };
  }, []);

  return (
    <div
      style={{
        position: "fixed",
        left: 0,
        top: 0,
        width: 1920,
        height: 1080,
        background: "#FFFFFF",
      }}
    >
      <canvas ref={canvasRef} width={1920} height={1080} style={{ width: 1920, height: 1080, display: "block" }} />
    </div>
  );
}
